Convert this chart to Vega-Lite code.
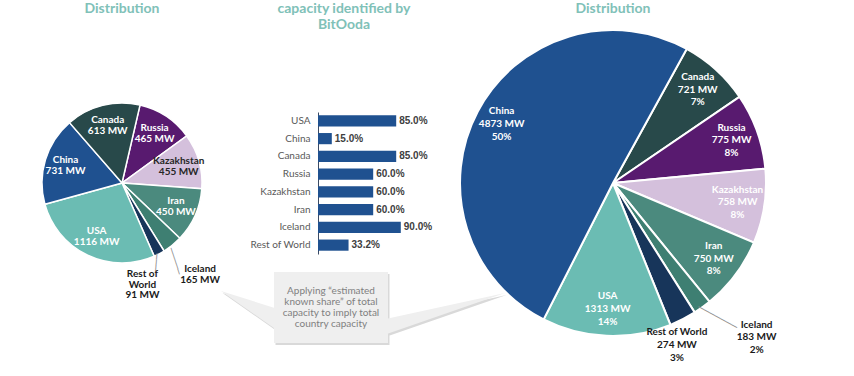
{
  "$schema": "https://vega.github.io/schema/vega-lite/v6.json",
  "padding": 0,
  "background": "white",
  "config": {"view": {"stroke": null}},
  "bounds": "flush",
  "align": "each",
  "columns": 3,
  "spacing": {"row": 86, "column": 26},
  "datasets": {
    "pieL": [
      {"country": "Russia", "mw": 465, "ord": 1},
      {"country": "Kazakhstan", "mw": 455, "ord": 2},
      {"country": "Iran", "mw": 450, "ord": 3},
      {"country": "Iceland", "mw": 165, "ord": 4},
      {"country": "Rest of World", "mw": 91, "ord": 5},
      {"country": "USA", "mw": 1116, "ord": 6},
      {"country": "China", "mw": 731, "ord": 7},
      {"country": "Canada", "mw": 613, "ord": 8}
    ],
    "pieR": [
      {"country": "Canada", "mw": 721, "pct": 7, "ord": 1},
      {"country": "Russia", "mw": 775, "pct": 8, "ord": 2},
      {"country": "Kazakhstan", "mw": 758, "pct": 8, "ord": 3},
      {"country": "Iran", "mw": 750, "pct": 8, "ord": 4},
      {"country": "Iceland", "mw": 183, "pct": 2, "ord": 5},
      {"country": "Rest of World", "mw": 274, "pct": 3, "ord": 6},
      {"country": "USA", "mw": 1313, "pct": 14, "ord": 7},
      {"country": "China", "mw": 4873, "pct": 50, "ord": 8}
    ],
    "bars": [
      {"country": "USA", "share": 0.85},
      {"country": "China", "share": 0.15},
      {"country": "Canada", "share": 0.85},
      {"country": "Russia", "share": 0.60},
      {"country": "Kazakhstan", "share": 0.60},
      {"country": "Iran", "share": 0.60},
      {"country": "Iceland", "share": 0.90},
      {"country": "Rest of World", "share": 0.332}
    ]
  },
  "concat": [
    {
      "width": 244,
      "height": 26,
      "data": {"values": [{"t": "Distribution"}]},
      "mark": {"type": "text", "baseline": "alphabetic", "font": "Lato", "fontSize": 14, "fontWeight": "bold", "color": "#80c1b8"},
      "encoding": {"text": {"field": "t", "type": "nominal"}}
    },
    {
      "width": 140,
      "height": 26,
      "data": {"values": [{"t": ["capacity identified by", "BitOoda"]}]},
      "mark": {"type": "text", "baseline": "alphabetic", "dx": 4, "lineHeight": 16, "font": "Lato", "fontSize": 14, "fontWeight": "bold", "color": "#80c1b8"},
      "encoding": {"text": {"field": "t", "type": "nominal"}}
    },
    {
      "width": 354,
      "height": 26,
      "data": {"values": [{"t": "Distribution"}]},
      "mark": {"type": "text", "baseline": "alphabetic", "font": "Lato", "fontSize": 14, "fontWeight": "bold", "color": "#80c1b8"},
      "encoding": {"text": {"field": "t", "type": "nominal"}}
    },
    {
      "width": 244,
      "height": 142,
      "data": {"name": "pieL"},
      "transform": [
        {"calculate": "datum.country === 'Rest of World' ? ['Rest of', 'World', datum.mw + ' MW'] : [datum.country, datum.mw + ' MW']", "as": "label"}
      ],
      "encoding": {
        "theta": {"field": "mw", "type": "quantitative", "stack": true, "scale": {"range": [0.2269, 6.5101]}},
        "order": {"field": "ord", "type": "quantitative"}
      },
      "layer": [
        {
          "mark": {"type": "arc", "radius": 80, "stroke": "white", "strokeWidth": 1.5},
          "encoding": {
            "color": {"field": "country", "type": "nominal", "legend": null,
              "scale": {"domain": ["China", "Canada", "Russia", "Kazakhstan", "Iran", "Iceland", "Rest of World", "USA"],
                        "range": ["#1f5190", "#28494a", "#581a6f", "#d4c0dc", "#4b8a7e", "#3e7f72", "#17355a", "#6bbcb3"]}}
          }
        },
        {
          "mark": {"type": "text", "radius": 94.2, "angle": 71.7, "dx": 2.8, "dy": 7.45, "align": "center", "baseline": "middle", "font": "DejaVu Sans Mono", "fontSize": 9.1, "color": "#8f8f8f"},
          "encoding": {"text": {"condition": {"test": "datum.country === 'Iceland'", "value": "─────"}, "value": ""}}
        },
        {
          "mark": {"type": "text", "radius": 86.1, "angle": 95.3, "dx": 3.9, "dy": 6, "align": "center", "baseline": "middle", "font": "DejaVu Sans Mono", "fontSize": 10.2, "color": "#8f8f8f"},
          "encoding": {"text": {"condition": {"test": "datum.country === 'Rest of World'", "value": "───"}, "value": ""}}
        },
        {
          "mark": {"type": "text", "radius": 59, "dy": -5.5, "font": "Lato", "fontSize": 10, "fontWeight": "bold", "lineHeight": 11},
          "encoding": {
            "text": {"condition": {"test": "datum.country !== 'Iceland' && datum.country !== 'Rest of World'", "field": "label", "type": "nominal"}, "value": ""},
            "color": {"condition": {"test": "datum.country === 'Kazakhstan'", "value": "#262626"}, "value": "white"}
          }
        },
        {
          "mark": {"type": "text", "radius": 116.2, "dx": 4.9, "dy": -4, "font": "Lato", "fontSize": 10, "fontWeight": "bold", "lineHeight": 10.5, "color": "#1a1a1a"},
          "encoding": {"text": {"condition": {"test": "datum.country === 'Iceland'", "field": "label", "type": "nominal"}, "value": ""}}
        },
        {
          "mark": {"type": "text", "radius": 90.5, "dx": -21.7, "dy": 11.4, "font": "Lato", "fontSize": 10, "fontWeight": "bold", "lineHeight": 10.5, "color": "#1a1a1a"},
          "encoding": {"text": {"condition": {"test": "datum.country === 'Rest of World'", "field": "label", "type": "nominal"}, "value": ""}}
        }
      ]
    },
    {
      "width": 140,
      "height": 231,
      "layer": [
        {
          "data": {"name": "bars"},
          "encoding": {
            "y": {"field": "country", "type": "nominal", "sort": null,
                  "scale": {"range": [0, 142], "paddingInner": 0.37, "paddingOuter": 0.185},
                  "axis": {"title": null, "ticks": false, "tickSize": 0, "labelPadding": 8, "offset": -48, "domainColor": "#3b4a63", "domainWidth": 1,
                           "labelFont": "Lato", "labelFontSize": 10, "labelColor": "#595959"}},
            "x": {"field": "share", "type": "quantitative", "scale": {"domain": [0, 1], "range": [48, 140]}, "axis": null}
          },
          "layer": [
            {"mark": {"type": "bar", "color": "#1f5190"}},
            {
              "mark": {"type": "text", "align": "left", "dx": 3, "font": "Liberation Sans", "fontSize": 10, "fontWeight": "bold", "color": "#404040"},
              "encoding": {"text": {"field": "share", "type": "quantitative", "format": ".1%"}}
            }
          ]
        },
        {
          "data": {"values": [{"note": "Applying “estimated\nknown share” of total\ncapacity to imply total\ncountry capacity"}]},
          "encoding": {
            "x": {"field": "note", "type": "nominal", "scale": {"range": [0, 122]}, "axis": null},
            "y": {"field": "note", "type": "nominal", "scale": {"range": [160, 231]}, "axis": null}
          },
          "layer": [
            {
              "mark": {"type": "point", "shape": "M-57,-35.5H57V35.5H-57Z M-110,-16.5L-50,2.5L-50,25.5Z M174,-14.5L50,28.5L50,12.5Z", "size": 4, "filled": true, "fill": "#d9d9d9", "opacity": 1, "strokeWidth": 0, "xOffset": 1.5, "yOffset": 2}
            },
            {
              "mark": {"type": "point", "shape": "M-57,-35.5H57V35.5H-57Z M-110,-16.5L-50,2.5L-50,25.5Z M174,-14.5L50,28.5L50,12.5Z", "size": 4, "filled": true, "fill": "#efefef", "opacity": 1, "strokeWidth": 0}
            },
            {
              "mark": {"type": "text", "lineBreak": "\n", "dy": -17, "font": "Lato", "fontSize": 10, "lineHeight": 11.3, "color": "#808080"},
              "encoding": {"text": {"field": "note", "type": "nominal"}}
            }
          ]
        }
      ],
      "resolve": {"scale": {"x": "independent", "y": "independent"}, "axis": {"x": "independent", "y": "independent"}}
    },
    {
      "width": 354,
      "height": 142,
      "data": {"name": "pieR"},
      "transform": [
        {"calculate": "[datum.country, datum.mw + ' MW', datum.pct + '%']", "as": "label"}
      ],
      "encoding": {
        "theta": {"field": "mw", "type": "quantitative", "stack": true, "scale": {"range": [0.5027, 6.7859]}},
        "order": {"field": "ord", "type": "quantitative"}
      },
      "layer": [
        {
          "mark": {"type": "arc", "radius": 153, "stroke": "white", "strokeWidth": 2},
          "encoding": {
            "color": {"field": "country", "type": "nominal", "legend": null,
              "scale": {"domain": ["China", "Canada", "Russia", "Kazakhstan", "Iran", "Iceland", "Rest of World", "USA"],
                        "range": ["#1f5190", "#28494a", "#581a6f", "#d4c0dc", "#4b8a7e", "#3e7f72", "#17355a", "#6bbcb3"]}}
          }
        },
        {
          "mark": {"type": "text", "radius": 170.2, "angle": 28.7, "dx": 2.7, "dy": -5.7, "align": "center", "baseline": "middle", "font": "DejaVu Sans Mono", "fontSize": 10.4, "color": "#8f8f8f"},
          "encoding": {"text": {"condition": {"test": "datum.country === 'Iceland'", "value": "───────"}, "value": ""}}
        },
        {
          "mark": {"type": "text", "radius": 126, "dy": -12.7, "font": "Lato", "fontSize": 10, "fontWeight": "bold", "lineHeight": 12.7, "color": "white"},
          "encoding": {
            "text": {"condition": {"test": "datum.country !== 'Iceland' && datum.country !== 'Rest of World'", "field": "label", "type": "nominal"}, "value": ""}
          }
        },
        {
          "mark": {"type": "text", "radius": 200, "dx": 27, "dy": -20.7, "font": "Lato", "fontSize": 10, "fontWeight": "bold", "lineHeight": 12.7, "color": "#1a1a1a"},
          "encoding": {"text": {"condition": {"test": "datum.country === 'Iceland'", "field": "label", "type": "nominal"}, "value": ""}}
        },
        {
          "mark": {"type": "text", "radius": 173, "dx": -15, "dy": -4.7, "font": "Lato", "fontSize": 10, "fontWeight": "bold", "lineHeight": 12.7, "color": "#1a1a1a"},
          "encoding": {"text": {"condition": {"test": "datum.country === 'Rest of World'", "field": "label", "type": "nominal"}, "value": ""}}
        }
      ]
    }
  ]
}
